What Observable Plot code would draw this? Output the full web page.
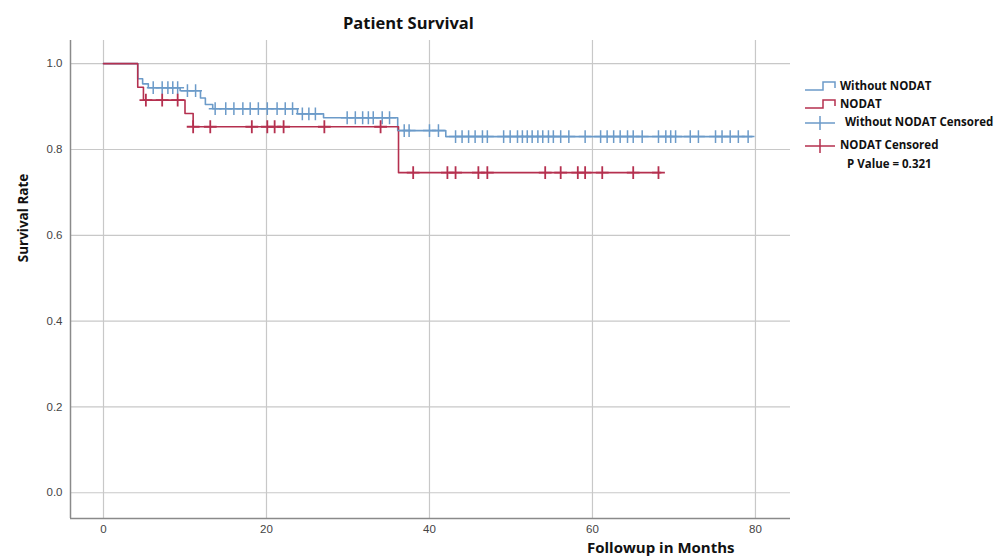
<!DOCTYPE html>
<html>
<head>
<meta charset="utf-8">
<script src="https://cdn.jsdelivr.net/npm/d3@7"></script>
<script src="https://cdn.jsdelivr.net/npm/@observablehq/plot@0.6"></script>
<style>
  html, body { margin: 0; padding: 0; background: #fff; }
  #wrap { position: relative; width: 995px; height: 556px; overflow: hidden; font-family: "Open Sans", "Noto Sans", sans-serif; }
  #chart { position: absolute; left: 0; top: 0; }
  .abs { position: absolute; white-space: nowrap; color: #111; }
  #title { left: 343px; top: 11px; font-weight: bold; font-size: 16.5px; }
  #ylab { left: 23px; top: 218px; font-weight: bold; font-size: 13.5px; transform: translate(-50%, -50%) rotate(-90deg); }
  #xlab { left: 587px; top: 539px; font-weight: bold; font-size: 15px; line-height: 16px; }
  .leg { font-size: 11.5px; font-weight: bold; }
</style>
</head>
<body>
<div id="wrap">
  <div id="chart"></div>
  <div id="title" class="abs">Patient Survival</div>
  <div id="ylab" class="abs">Survival Rate</div>
  <div id="xlab" class="abs">Followup in Months</div>
  <div id="legend"></div>
</div>
<script>
// ---- data ----
const blueName = "Without NODAT";
const redName = "NODAT";
// step points: time (months) and survival after that time
const blueTimes = [0, 4.2, 4.8, 5.5, 9.4, 11.9, 12.5, 13.4, 23.8, 27.0, 36.1, 42.0, 79.6];
const blueSurv  = [1.0, 0.965, 0.953, 0.944, 0.937, 0.92, 0.905, 0.895, 0.883, 0.874, 0.844, 0.83, 0.83];
const redTimes  = [0, 4.2, 4.9, 10.0, 11.0, 36.2, 68.4];
const redSurv   = [1.0, 0.945, 0.915, 0.884, 0.853, 0.746, 0.746];
// censored observation times
const blueCensor = [6.1, 7.2, 7.9, 8.5, 9.1, 10.3, 11.3, 13.7, 15.0, 16.0, 17.1, 18.0, 19.0, 20.1, 21.3, 22.3, 23.2,
  24.4, 25.2, 26.0, 29.9, 30.9, 31.8, 32.5, 33.1, 34.2, 35.1, 36.9, 37.5, 40.0, 41.1,
  43.2, 44.0, 44.8, 45.6, 46.5, 47.1, 49.1, 49.9, 50.8, 51.4, 52.0, 52.6, 53.3, 53.9, 54.6, 55.2, 56.1, 57.1,
  59.1, 61.0, 61.8, 62.6, 63.4, 64.3, 65.0, 66.1, 68.1, 69.0, 69.6, 70.2, 72.0, 73.0, 75.1, 75.9, 76.9, 77.9, 79.1];
const redCensor = [5.2, 7.2, 9.1, 11.0, 13.1, 18.2, 20.1, 21.0, 22.1, 27.1, 34.0,
  38.0, 42.2, 43.2, 46.0, 47.1, 54.2, 56.1, 58.2, 59.1, 61.2, 65.0, 68.1];
const xTicks = [0, 20, 40, 60, 80];
const yTicks = [0.0, 0.2, 0.4, 0.6, 0.8, 1.0];
const xDomain = [-4.05, 84.3];
const yDomain = [-0.06, 1.054];
const pValueText = "P Value = 0.321";

const blueColor = "#6c9bc9";
const redColor = "#b5304f";

// ---- build tables ----
function steps(times, surv, group) { return times.map((t, i) => ({t, s: surv[i], group})); }
function survAt(times, surv, t) { let v = surv[0]; for (let i = 0; i < times.length; i++) if (times[i] <= t) v = surv[i]; return v; }
const blueSteps = steps(blueTimes, blueSurv, blueName);
const redSteps = steps(redTimes, redSurv, redName);
const blueCens = blueCensor.map(t => ({t, s: survAt(blueTimes, blueSurv, t)}));
const redCens = redCensor.map(t => ({t, s: survAt(redTimes, redSurv, t)}));

const chart = Plot.plot({
  width: 995,
  height: 556,
  marginLeft: 70,
  marginRight: 205,
  marginTop: 40,
  marginBottom: 38,
  style: {fontFamily: "Liberation Sans, Arial, sans-serif", fontSize: "11.5px", color: "#444", background: "#fff"},
  x: {domain: xDomain, ticks: xTicks, label: null},
  y: {domain: yDomain, ticks: yTicks, label: null, tickFormat: d3.format(".1f")},
  marks: [
    Plot.gridX(xTicks, {stroke: "#c8c8c8", strokeOpacity: 1, strokeWidth: 1.2}),
    Plot.gridY(yTicks, {stroke: "#c8c8c8", strokeOpacity: 1, strokeWidth: 1.2}),
    Plot.ruleX([xDomain[0]], {stroke: "#8a8a8a", strokeWidth: 1.5}),
    Plot.ruleY([yDomain[0]], {stroke: "#8a8a8a", strokeWidth: 1.5}),
    Plot.axisX(xTicks, {tickSize: 0, tickPadding: 6, fill: "#444", label: null}),
    Plot.axisY(yTicks, {tickSize: 0, tickPadding: 8, fill: "#444", label: null, tickFormat: d3.format(".1f")}),
    Plot.line(blueSteps, {x: "t", y: "s", curve: "step-after", stroke: blueColor, strokeWidth: 1.6}),
    Plot.line(redSteps, {x: "t", y: "s", curve: "step-after", stroke: redColor, strokeWidth: 1.6}),
    Plot.dot(blueCens, {x: "t", y: "s", symbol: "plus", r: 4.2, stroke: blueColor, strokeWidth: 1.5}),
    Plot.dot(redCens, {x: "t", y: "s", symbol: "plus", r: 4.2, stroke: redColor, strokeWidth: 1.8})
  ]
});
document.getElementById("chart").appendChild(chart);

// ---- legend ----
const legendItems = [
  {label: blueName, color: blueColor, kind: "step", top: 78, left: 840},
  {label: redName, color: redColor, kind: "step", top: 96, left: 840},
  {label: blueName + " Censored", color: blueColor, kind: "cross", top: 114, left: 845},
  {label: redName + " Censored", color: redColor, kind: "cross", top: 137, left: 840}
];
const legend = document.getElementById("legend");
legendItems.forEach(it => {
  const svgNS = "http://www.w3.org/2000/svg";
  const icon = document.createElementNS(svgNS, "svg");
  icon.setAttribute("width", 34); icon.setAttribute("height", 18);
  icon.style.position = "absolute";
  icon.style.left = "803px";
  icon.style.top = (it.top - 1) + "px";
  const p = document.createElementNS(svgNS, "path");
  if (it.kind === "step") p.setAttribute("d", "M2,13 H20 V5 H32 V11");
  else p.setAttribute("d", "M2,10 H32 M17,3 V17");
  p.setAttribute("fill", "none"); p.setAttribute("stroke", it.color); p.setAttribute("stroke-width", 1.5);
  icon.appendChild(p);
  legend.appendChild(icon);
  const d = document.createElement("div");
  d.className = "abs leg";
  d.style.left = it.left + "px"; d.style.top = it.top + "px";
  d.textContent = it.label;
  legend.appendChild(d);
});
const pv = document.createElement("div");
pv.className = "abs leg";
pv.style.left = "847px"; pv.style.top = "156px";
pv.textContent = pValueText;
legend.appendChild(pv);
</script>
</body>
</html>
